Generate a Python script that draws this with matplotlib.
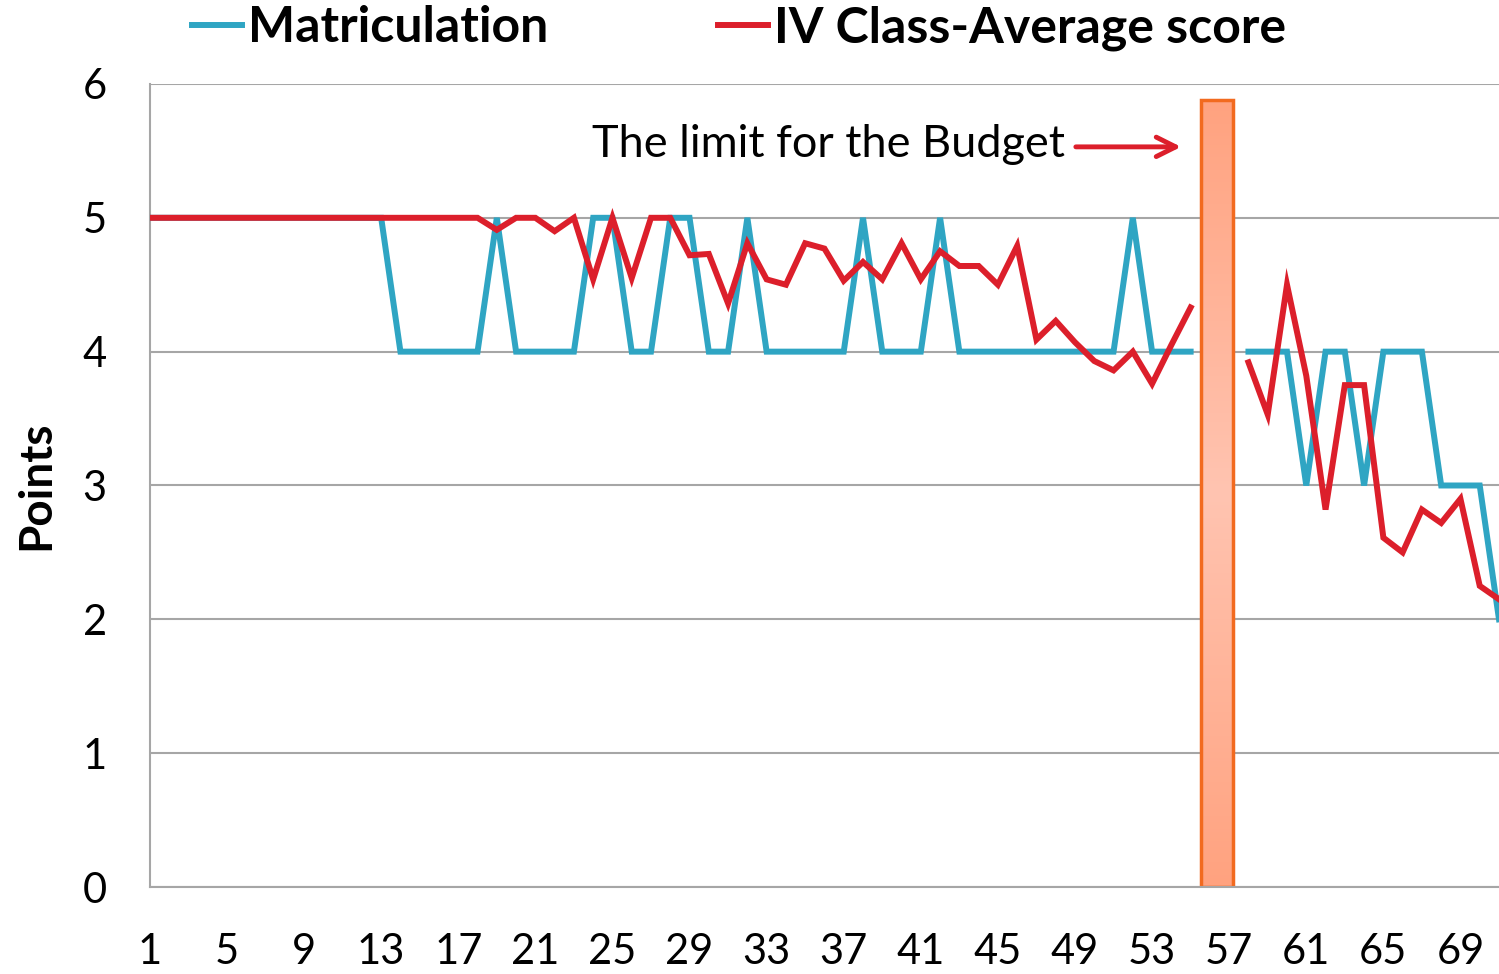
import numpy as np
import matplotlib
matplotlib.use("Agg")
import matplotlib.pyplot as plt
from matplotlib.colors import LinearSegmentedColormap
from matplotlib.patches import Rectangle

plt.rcParams['font.family'] = ['Lato', 'DejaVu Sans']

# data (x = 1..71, 56 and 57 are empty)
x = np.arange(1, 72)
nan = np.nan
matriculation = [5, 5, 5, 5, 5, 5, 5, 5, 5, 5, 5, 5, 5, 4, 4, 4, 4, 4, 5, 4,
                 4, 4, 4, 5, 5, 4, 4, 5, 5, 4, 4, 5, 4, 4, 4, 4, 4, 5, 4, 4,
                 4, 5, 4, 4, 4, 4, 4, 4, 4, 4, 4, 5, 4, 4, 4, nan, nan, 4, 4, 4,
                 3, 4, 4, 3, 4, 4, 4, 3, 3, 3, 2]
class_avg = [5, 5, 5, 5, 5, 5, 5, 5, 5, 5, 5, 5, 5, 5, 5, 5, 5, 5, 4.91, 5,
             5, 4.90, 5, 4.54, 5, 4.55, 5, 5, 4.72, 4.73, 4.36, 4.81, 4.54, 4.50, 4.81, 4.77,
             4.53, 4.67, 4.54, 4.81, 4.54, 4.75, 4.64, 4.64, 4.50, 4.79, 4.09, 4.23, 4.07, 3.93,
             3.86, 4.00, 3.76, 4.05, 4.33, nan, nan, 3.92, 3.53, 4.50, 3.82, 2.82, 3.75, 3.75,
             2.61, 2.50, 2.82, 2.72, 2.90, 2.25, 2.15]
budget_x = 56.35
budget_w = 1.66
budget_h = 5.88

cyan = '#2FA5C3'
red = '#DC1F2B'
grey = '#A6A6A6'

fig = plt.figure(figsize=(14.99, 9.74), dpi=100)
ax = fig.add_axes([0.1, 0.0893, 0.9, 0.8245])

ax.plot(x, matriculation, color=cyan, lw=4.3, label='Matriculation', zorder=3,
        solid_joinstyle='miter')
ax.plot(x, class_avg, color=red, lw=4.3, label='IV Class-Average score', zorder=4,
        solid_joinstyle='miter')

# budget limit bar with soft gradient
cmap = LinearSegmentedColormap.from_list('bud', ['#FFA27F', '#FFC4B1', '#FFA27F'])
grad = np.linspace(0, 1, 256).reshape(-1, 1)
x0 = budget_x - budget_w / 2
ax.imshow(grad, extent=(x0, x0 + budget_w, 0, budget_h), cmap=cmap,
          aspect='auto', zorder=2, origin='lower')
ax.add_patch(Rectangle((x0, 0), budget_w, budget_h, fill=False,
                       edgecolor='#F26A1F', lw=2.5, zorder=2.5))

ax.annotate('', xy=(54.65, 5.53), xytext=(48.9, 5.53),
            arrowprops=dict(arrowstyle='->', color=red, lw=3.5, mutation_scale=35))
ax.text(48.5, 5.55, 'The limit for the Budget', fontsize=32.5, ha='right', va='center')

ax.set_xlim(1, 71)
ax.set_ylim(0, 6)
ax.set_xticks(np.arange(1, 71, 4))
ax.set_yticks(range(0, 7))
ax.tick_params(axis='both', length=0, labelsize=30)
ax.tick_params(axis='y', pad=31)
ax.tick_params(axis='x', pad=33)
ax.yaxis.grid(True, color=grey, lw=1.5, zorder=0)
ax.set_axisbelow(True)
for s in ['top', 'right']:
    ax.spines[s].set_visible(False)
for s in ['left', 'bottom']:
    ax.spines[s].set_color(grey)
    ax.spines[s].set_linewidth(1.5)

ax.set_ylabel('Points', fontsize=33, fontweight='bold')
ax.yaxis.set_label_coords(-0.069, 0.5)

fig.legend(loc='center', bbox_to_anchor=(0.493, 0.971), ncol=2, frameon=False,
           prop={'size': 36, 'weight': 'bold'}, handlelength=1.0,
           handletextpad=0.12, columnspacing=3.4)

fig.savefig('out.png', dpi=100)
